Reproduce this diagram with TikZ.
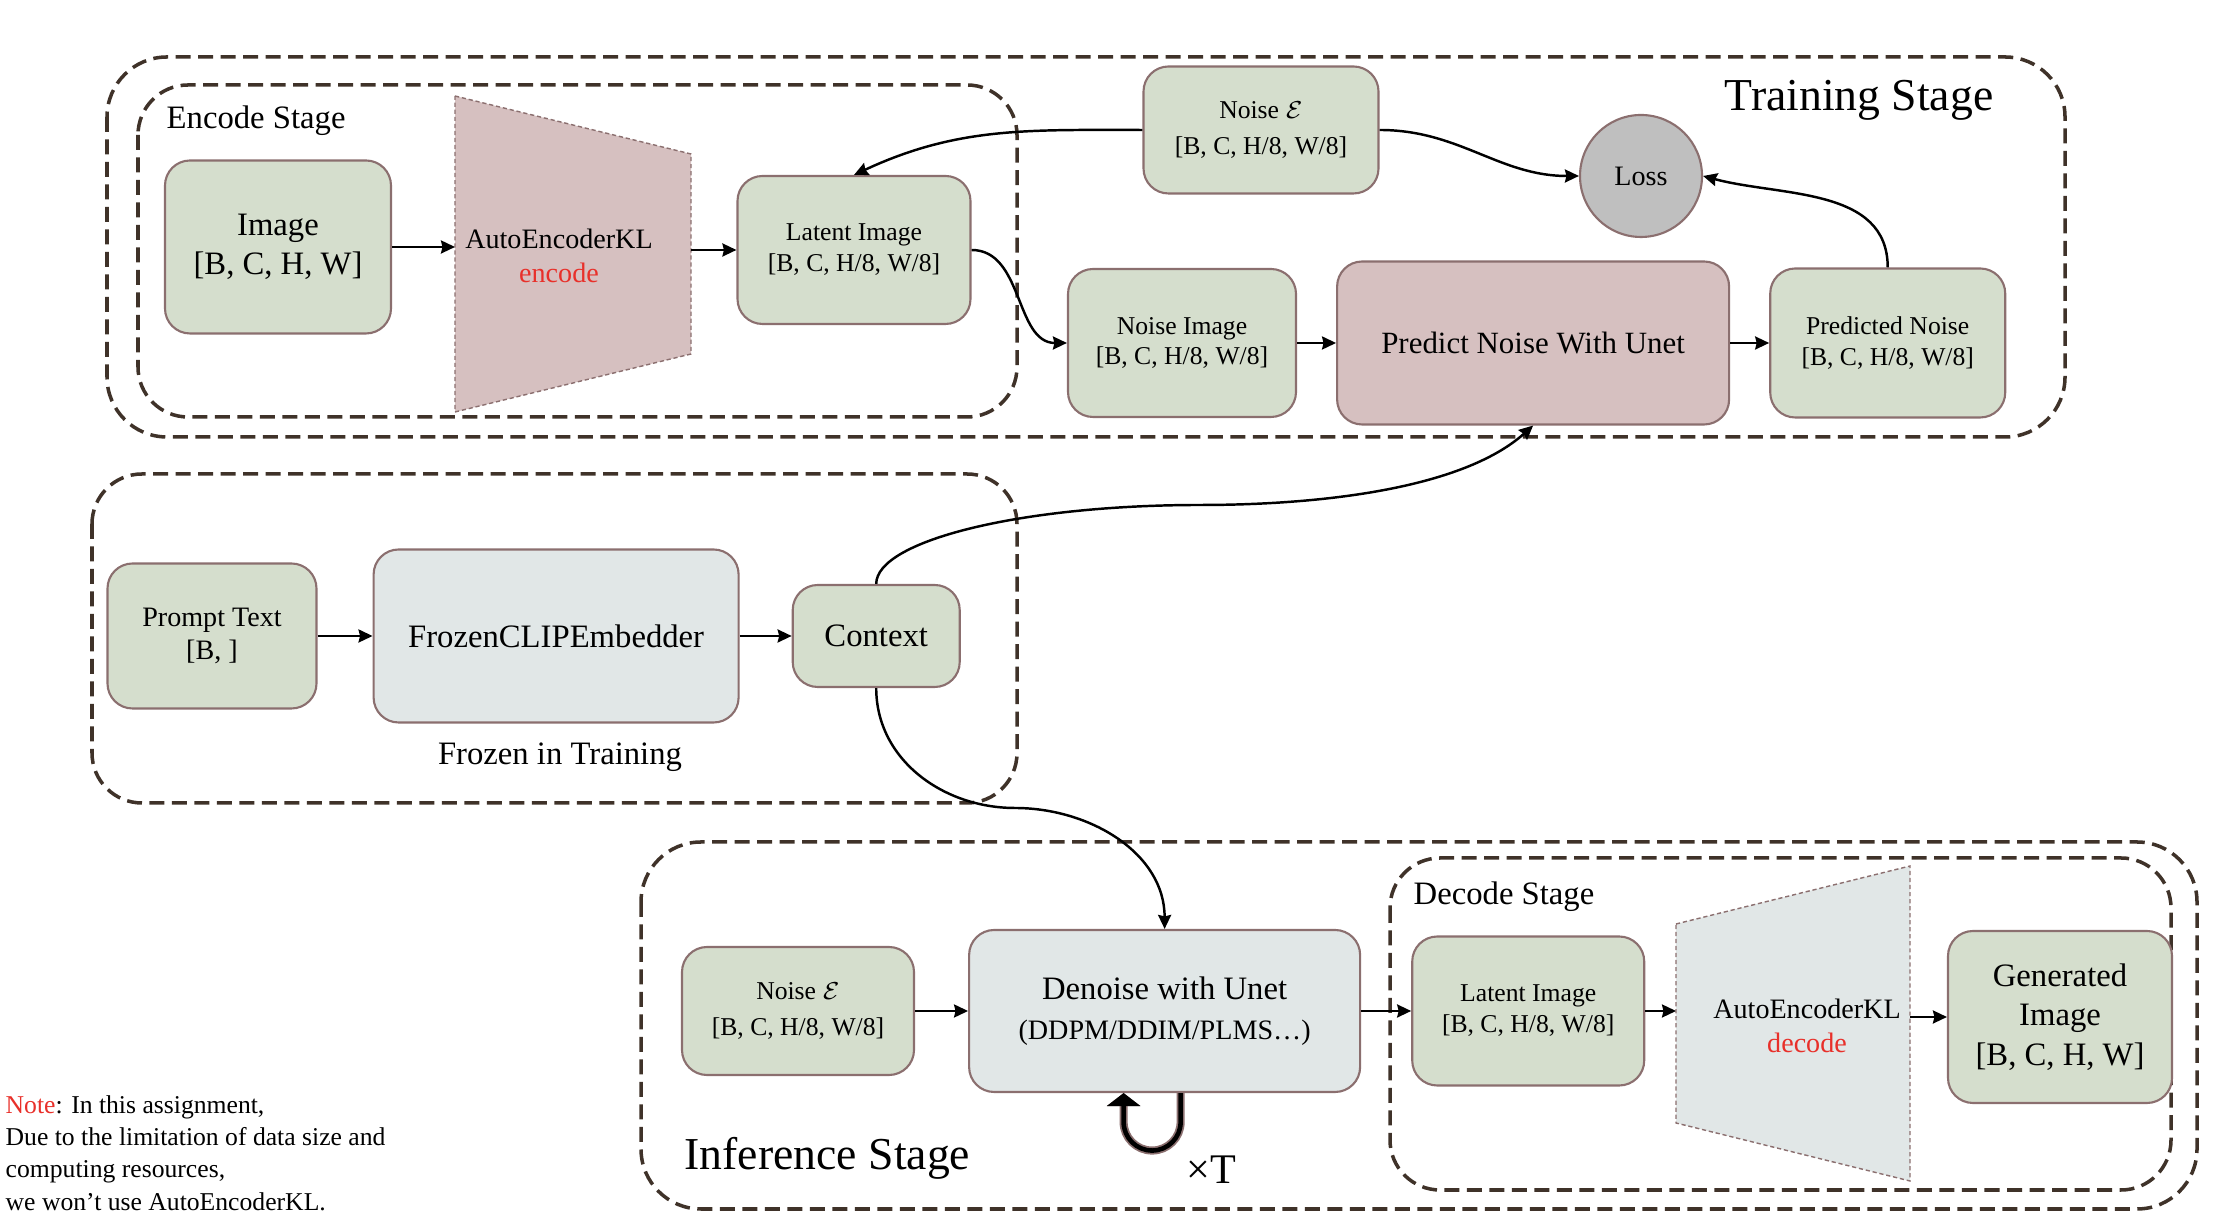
\documentclass[tikz,border=0pt]{standalone}
\usepackage{fontspec}
\setmainfont{Liberation Serif}
\usepackage{tikz}
\usetikzlibrary{positioning}
\usetikzlibrary {arrows.meta}
\definecolor{boxgreen}{HTML}{D5DECD}
\definecolor{boxline}{HTML}{8B6F6F}
\definecolor{boxpink}{HTML}{D6C0C0}
\definecolor{boxgrey}{HTML}{E1E7E7}
\definecolor{lossgrey}{HTML}{BFBFBF}
\definecolor{stageline}{HTML}{3F3229}
\definecolor{notered}{HTML}{E8302A}
\newcommand{\bigtxt}{\fontsize{9.3}{11.2}\selectfont}
\newcommand{\midtxt}{\fontsize{8}{9.6}\selectfont}
\newcommand{\smalltxt}{\fontsize{7.3}{8.8}\selectfont}
\newcommand{\titletxt}{\fontsize{13}{15.6}\selectfont}
\tikzset{tensor/.style={rectangle,rounded corners=2.5mm,draw=boxline,line width=0.6pt,fill=boxgreen,
inner sep=2pt,align=center,font=\smalltxt}}
\tikzset{model/.style={tensor,fill=boxgrey,font=\bigtxt}}
\tikzset{stage/.style={draw=stageline,line width=1pt,dash pattern=on 1.5mm off 0.75mm}}
\tikzset{trap/.style={draw=boxline,line width=0.4pt,dash pattern=on 1.2pt off 0.8pt}}
\tikzset{label/.style={inner sep=0pt,align=center}}
\tikzset{conn/.style={line width=0.7pt,-{Stealth[length=1.4mm,width=1.3mm,inset=0.15mm]}}}

\begin{document}
\begin{tikzpicture}
        \useasboundingbox (0,0) rectangle (22.14,12.30);

        \draw[stage,rounded corners=6mm] (1.07,11.73) rectangle (20.65,7.93);
        \draw[stage,rounded corners=5mm] (1.38,11.45) rectangle (10.17,8.13);
        \draw[stage,rounded corners=5mm] (0.92,7.56) rectangle (10.17,4.27);
        \draw[stage,rounded corners=6mm] (6.41,3.88) rectangle (21.97,0.21);
        \draw[stage,rounded corners=5mm] (13.90,3.72) rectangle (21.71,0.40);

        \node[label,anchor=west,font=\bigtxt] (enclbl) at (1.66,11.09) {Encode Stage};
        \node[label,font=\titletxt] (trainlbl) at (18.59,11.30) {Training Stage};
        \node[label,font=\bigtxt] (frozenlbl) at (5.60,4.73) {Frozen in Training};
        \node[label,anchor=west,font=\bigtxt] (declbl) at (14.13,3.33) {Decode Stage};
        \node[label,anchor=west,font=\titletxt] (inflbl) at (6.84,0.72) {Inference Stage};

        \coordinate (encTL) at (4.55,11.34);
        \coordinate (encTR) at (6.91,10.76);
        \coordinate (encBR) at (6.91,8.76);
        \coordinate (encBL) at (4.55,8.18);
        \draw[trap,fill=boxpink] (encTL) -- (encTR) -- (encBR) -- (encBL) -- cycle;
        \node[label,font=\midtxt] (enc) at (5.59,9.74) {AutoEncoderKL\\\textcolor{notered}{encode}};

        \coordinate (decTL) at (16.76,3.06);
        \coordinate (decTR) at (19.10,3.64);
        \coordinate (decBR) at (19.10,0.49);
        \coordinate (decBL) at (16.76,1.07);
        \draw[trap,fill=boxgrey] (decTL) -- (decTR) -- (decBR) -- (decBL) -- cycle;
        \node[label,font=\midtxt] (dec) at (18.07,2.04) {AutoEncoderKL\\\textcolor{notered}{decode}};

        \node[tensor,font=\bigtxt,minimum width=2.26cm,minimum height=1.73cm] (img) at (2.78,9.83) {Image\\{[B, C, H, W]}};
        \node[tensor,minimum width=2.33cm,minimum height=1.48cm] (latA) at (8.54,9.80) {Latent Image\\{[B, C, H/8, W/8]}};
        \node[tensor,minimum width=2.35cm,minimum height=1.27cm] (noiseA) at (12.61,11.00) {Noise $\mathcal{E}$\\[1.5pt]{[B, C, H/8, W/8]}};
        \node[circle,draw=boxline,line width=0.6pt,fill=lossgrey,minimum size=1.22cm,inner sep=0pt,font=\midtxt] (loss) at (16.41,10.54) {Loss};
        \node[tensor,minimum width=2.28cm,minimum height=1.48cm] (nimg) at (11.82,8.87) {Noise Image\\{[B, C, H/8, W/8]}};
        \node[tensor,fill=boxpink,font=\fontsize{8.8}{10.6}\selectfont,minimum width=3.92cm,minimum height=1.63cm] (unetA) [right=0.39cm of nimg] {Predict Noise With Unet};
        \node[tensor,minimum width=2.35cm,minimum height=1.49cm] (prd) [right=0.39cm of unetA] {Predicted Noise\\{[B, C, H/8, W/8]}};

        \node[tensor,font=\midtxt,minimum width=2.09cm,minimum height=1.45cm] (prompt) at (2.12,5.94) {Prompt Text\\{[B, ]}};
        \node[model,minimum width=3.65cm,minimum height=1.73cm] (clip) [right=0.55cm of prompt] {FrozenCLIPEmbedder};
        \node[tensor,font=\bigtxt,minimum width=1.67cm,minimum height=1.02cm] (ctx) [right=0.52cm of clip] {Context};

        \node[tensor,minimum width=2.32cm,minimum height=1.28cm] (noiseB) at (7.98,2.19) {Noise $\mathcal{E}$\\[1.5pt]{[B, C, H/8, W/8]}};
        \node[model,minimum width=3.91cm,minimum height=1.62cm] (den) [right=0.53cm of noiseB] {Denoise with Unet\\{\midtxt (DDPM/DDIM/PLMS…)}};
        \node[tensor,minimum width=2.32cm,minimum height=1.49cm] (latB) [right=0.5cm of den] {Latent Image\\{[B, C, H/8, W/8]}};
        \node[tensor,font=\bigtxt,minimum width=2.24cm,minimum height=1.72cm] (gen) at (20.60,2.13) {Generated\\Image\\{[B, C, H, W]}};
        \node[label,font=\fontsize{12}{14}\selectfont] (times) at (12.11,0.60) {×T};

        \node[label,anchor=west,align=left,font=\fontsize{7.3}{9.2}\selectfont] (note) at (0.05,0.77) {\textcolor{notered}{Note}: In this assignment,\\Due to the limitation of data size and\\computing resources,\\we won’t use AutoEncoderKL.};

        \coordinate (ctxup) at (12.0,7.25);
        \coordinate (ctxdown) at (10.15,4.22);

        \draw[conn] (img.east) -- (img.east -| encTL);
        \draw[conn] (latA.west -| encTR) -- (latA.west);
        \draw[conn] (noiseA.west) to[out=180,in=25] (latA.north);
        \draw[conn] (noiseA.east) to[out=0,in=180] (loss.west);
        \draw[conn] (latA.east) to[out=0,in=180] (nimg.west);
        \draw[conn] (nimg.east) -- (unetA.west);
        \draw[conn] (unetA.east) -- (prd.west);
        \draw[conn] (prd.north) to[out=90,in=-15] (loss.east);

        \draw[conn] (prompt.east) -- (clip.west);
        \draw[conn] (clip.east) -- (ctx.west);
        \draw[conn] (ctx.north) .. controls +(0,0.43) and +(-1.8,0) .. (ctxup) .. controls +(1.2,0) and +(-0.71,-0.635) .. (unetA.south);
        \draw[conn] (ctx.south) to[out=-90,in=180] (ctxdown) to[out=0,in=90] (den.north);

        \draw[conn] (noiseB.east) -- (den.west);
        \draw[conn] (den.east) -- (latB.west);
        \draw[conn] (latB.east) -- (latB.east -| decTL);
        \draw[conn] (gen.west -| decTR) -- (gen.west);
        \draw[line width=1.3pt,preaction={draw=boxline,line width=2.3pt},-{Triangle[width=3.3mm,length=1.3mm]}] ([xshift=1.6mm]den.south) -- ++(0,-0.29) arc[start angle=0,end angle=-180,radius=0.285] -- ([xshift=-4.1mm]den.south);

\end{tikzpicture}
\end{document}
